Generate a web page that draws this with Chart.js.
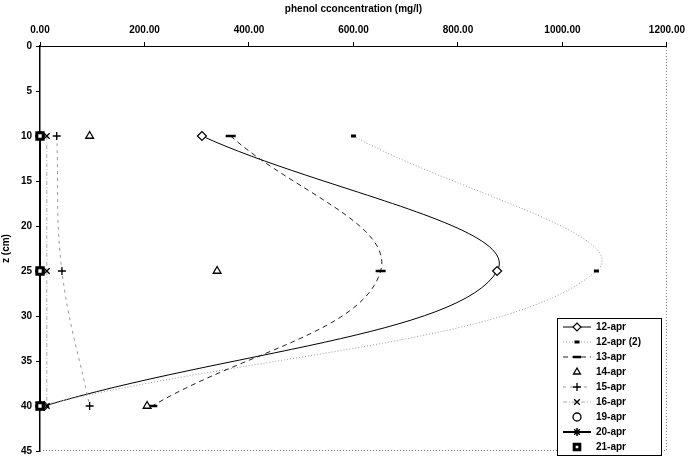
<!DOCTYPE html>
<html>
<head>
<meta charset="utf-8">
<script src="https://cdn.jsdelivr.net/npm/chart.js@4.4.0/dist/chart.umd.min.js"></script>
<style>
  html, body { margin: 0; padding: 0; background: #fff; }
  #wrap { width: 691px; height: 461px; }
</style>
</head>
<body>
<div id="wrap"><canvas id="phenolChart" width="691" height="461"></canvas></div>
<script>
// depth of the sampling ports (cm) and phenol per sampling day (mg/l)
var depths = [10, 25, 40];
var seriesNames = ['12-apr', '12-apr (2)', '13-apr', '14-apr', '15-apr', '16-apr', '19-apr', '20-apr', '21-apr'];
var apr12  = [310, 875, 8];
var apr12b = [600, 1065, 0];
var apr13  = [365, 652, 215];
var apr14  = [95, 339, 205];
var apr15  = [32, 42, 95];
var apr16  = [13, 13, 13];
var apr19  = [0, 0, 0];
var apr20  = [0, 0, 0];
var apr21  = [0, 0, 0];
var xTicks = [0, 200, 400, 600, 800, 1000, 1200];
var yTicks = [0, 5, 10, 15, 20, 25, 30, 35, 40, 45];

var allSeries = [apr12, apr12b, apr13, apr14, apr15, apr16, apr19, apr20, apr21];

// marker / line look for each day
var looks = [
  { ps: 'rectRot',  r: 4.5, bg: '#fff', pb: 1.2, line: true,  color: '#000', lw: 1,   dash: [] },
  { ps: 'line',     r: 2.5, bg: '#000', pb: 3,   line: true,  color: '#999', lw: 1,   dash: [1, 2] },
  { ps: 'line',     r: 5,   bg: '#000', pb: 2.5, line: true,  color: '#222', lw: 1,   dash: [5, 4] },
  { ps: 'triangle', r: 4.5, bg: '#fff', pb: 1.3, line: false, color: '#000', lw: 1,   dash: [] },
  { ps: 'cross',    r: 4,   bg: '#000', pb: 1.3, line: true,  color: '#999', lw: 1,   dash: [3, 4] },
  { ps: 'crossRot', r: 4,   bg: '#000', pb: 1.3, line: true,  color: '#aaa', lw: 1,   dash: [4, 2, 1, 2] },
  { ps: 'circle',   r: 4,   bg: '#fff', pb: 1.3, line: false, color: '#000', lw: 1,   dash: [] },
  { ps: 'star',     r: 4.5, bg: '#000', pb: 1.5, line: true,  color: '#000', lw: 2,   dash: [] },
  { ps: 'rect',     r: 4.5, bg: '#fff', pb: 3,   line: false, color: '#000', lw: 1,   dash: [] }
];

var datasets = allSeries.map(function(vals, i) {
  var lk = looks[i];
  return {
    label: seriesNames[i],
    data: vals.map(function(v, k) { return { x: v, y: depths[k] }; }),
    showLine: lk.line,
    borderColor: lk.color,
    borderWidth: lk.lw,
    borderDash: lk.dash,
    tension: 0.4,
    pointStyle: lk.ps,
    pointRadius: lk.r,
    pointBackgroundColor: lk.bg,
    pointBorderColor: '#000',
    pointBorderWidth: lk.pb,
    clip: false,
    order: allSeries.length - i
  };
});

var FONT = 'Liberation Sans, Arial, sans-serif';

// dotted right/bottom edge of the plot area
var plotFrame = {
  id: 'plotFrame',
  beforeDatasetsDraw: function(chart) {
    var a = chart.chartArea, ctx = chart.ctx;
    ctx.save();
    ctx.strokeStyle = '#777';
    ctx.lineWidth = 1;
    ctx.setLineDash([1, 2]);
    ctx.beginPath();
    ctx.moveTo(a.left, a.bottom - 0.5);
    ctx.lineTo(a.right - 0.5, a.bottom - 0.5);
    ctx.lineTo(a.right - 0.5, a.top);
    ctx.stroke();
    ctx.restore();
  }
};

// boxed legend in the lower right corner
var legendBox = {
  id: 'legendBox',
  afterDraw: function(chart) {
    var ctx = chart.ctx;
    var x0 = 557, y0 = 318, w = 104, h = 137, rowH = 15;
    ctx.save();
    ctx.fillStyle = '#fff';
    ctx.fillRect(x0, y0, w, h);
    ctx.strokeStyle = '#000';
    ctx.lineWidth = 1;
    ctx.strokeRect(x0 + 0.5, y0 + 0.5, w, h);
    ctx.font = 'bold 10px ' + FONT;
    ctx.textBaseline = 'middle';
    chart.data.datasets.forEach(function(ds, i) {
      var y = y0 + 9 + i * rowH;
      if (ds.showLine) {
        ctx.setLineDash(ds.borderDash);
        ctx.strokeStyle = ds.borderColor;
        ctx.lineWidth = ds.borderWidth;
        ctx.beginPath();
        ctx.moveTo(x0 + 6, y);
        ctx.lineTo(x0 + 34, y);
        ctx.stroke();
      }
      ctx.setLineDash([]);
      ctx.fillStyle = ds.pointBackgroundColor;
      ctx.strokeStyle = ds.pointBorderColor;
      ctx.lineWidth = ds.pointBorderWidth;
      Chart.helpers.drawPoint(ctx, {
        pointStyle: ds.pointStyle, radius: Math.min(ds.pointRadius, 4),
        borderWidth: ds.pointBorderWidth, rotation: 0
      }, x0 + 20, y);
      ctx.fillStyle = '#000';
      ctx.fillText(ds.label, x0 + 39, y);
    });
    ctx.restore();
  }
};

new Chart(document.getElementById('phenolChart').getContext('2d'), {
  type: 'scatter',
  data: { datasets: datasets },
  options: {
    responsive: false,
    animation: false,
    devicePixelRatio: 1,
    layout: { padding: { left: 0, top: 0, right: 20, bottom: 5 } },
    plugins: {
      legend: { display: false },
      tooltip: { enabled: false }
    },
    scales: {
      x: {
        type: 'linear',
        position: 'top',
        min: xTicks[0],
        max: xTicks[xTicks.length - 1],
        afterBuildTicks: function(scale) {
          scale.ticks = xTicks.map(function(v) { return { value: v }; });
        },
        afterFit: function(scale) { scale.height = 46; },
        ticks: {
          padding: 6,
          color: '#000',
          font: { family: FONT, size: 10, weight: 'bold' },
          callback: function(v) { return Number(v).toFixed(2); }
        },
        grid: { drawOnChartArea: false, drawTicks: true, tickLength: 4, color: '#000' },
        border: { color: '#000', width: 1 },
        title: {
          display: true,
          text: 'phenol cconcentration (mg/l)',
          color: '#000',
          font: { family: FONT, size: 10, weight: 'bold' },
          padding: { top: 3, bottom: 0 }
        }
      },
      y: {
        type: 'linear',
        reverse: true,
        min: yTicks[0],
        max: yTicks[yTicks.length - 1],
        afterBuildTicks: function(scale) {
          scale.ticks = yTicks.map(function(v) { return { value: v }; });
        },
        afterFit: function(scale) { scale.width = 40; },
        ticks: {
          padding: 4,
          color: '#000',
          font: { family: FONT, size: 10, weight: 'bold' }
        },
        grid: { drawOnChartArea: false, drawTicks: true, tickLength: 4, color: '#000' },
        border: { color: '#000', width: 1.5 },
        title: {
          display: true,
          text: 'z (cm)',
          color: '#000',
          font: { family: FONT, size: 10, weight: 'bold' },
          padding: { top: 0, bottom: 0 }
        }
      }
    }
  },
  plugins: [plotFrame, legendBox]
});
</script>
</body>
</html>
